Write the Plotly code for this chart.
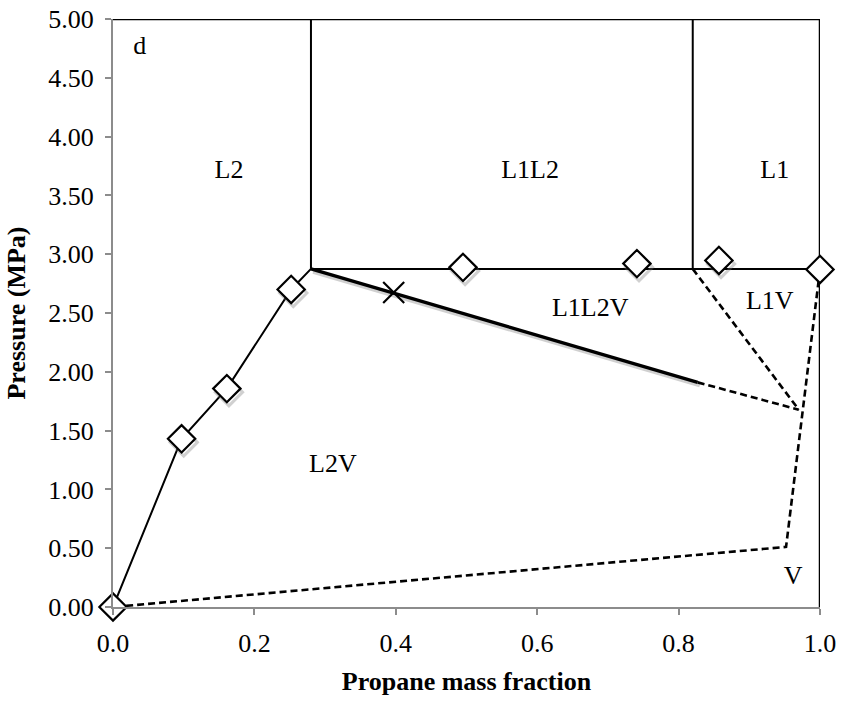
import plotly.graph_objects as go

# Experimental bubble/phase points (propane mass fraction, pressure MPa)
exp_x = [0.0, 0.097, 0.161, 0.252, 0.495, 0.741, 0.857, 1.0]
exp_p = [0.0, 1.43, 1.857, 2.70, 2.888, 2.92, 2.947, 2.87]

# Critical / special point
cross_x = [0.397]
cross_p = [2.675]

# L2 / L2V boundary
l2_x = [0.0, 0.097, 0.161, 0.252, 0.28]
l2_p = [0.0, 1.43, 1.857, 2.70, 2.875]

# Three-phase line
tp_x = [0.28, 1.0]
tp_p = [2.875, 2.875]

# Vertical boundaries of L1L2 / L1
v1_x = [0.28, 0.28]
v2_x = [0.82, 0.82]
v_p = [2.875, 5.0]

# Frame lines at top and right
top_x = [0.0, 1.0]
top_p = [5.0, 5.0]
right_x = [1.0, 1.0]
right_p = [0.0, 5.0]

# Measured L2V/L1L2V boundary (solid) and its extrapolation (dashed)
tie_x = [0.28, 0.827]
tie_p = [2.875, 1.91]
tie_ext_x = [0.827, 0.970]
tie_ext_p = [1.91, 1.678]

# Estimated dew/phase boundaries (dashed)
l1v_x = [0.82, 0.970]
l1v_p = [2.875, 1.678]
dew_x = [1.0, 0.952, 0.0]
dew_p = [2.87, 0.511, 0.0]

# Region labels
lab_text = ["d", "L2", "L1L2", "L1", "L1L2V", "L1V", "L2V", "V"]
lab_x = [0.038, 0.164, 0.59, 0.936, 0.675, 0.929, 0.311, 0.962]
lab_p = [4.76, 3.705, 3.705, 3.705, 2.53, 2.59, 1.20, 0.255]

FONT = "Liberation Serif, Times New Roman, serif"
DASH = "7px,4px"

fig = go.Figure()

def line(x, y, width=2, dash=None, color="black"):
    fig.add_trace(go.Scatter(
        x=x, y=y, mode="lines", showlegend=False, hoverinfo="skip",
        cliponaxis=False,
        line=dict(color=color, width=width, dash=dash),
    ))

line(top_x, top_p, 2.5)
line(right_x, right_p, 2.5)
line(v1_x, v_p, 2)
line(v2_x, v_p, 2)
line(tp_x, tp_p, 2)
line(l2_x, l2_p, 2)

# soft shadow under the measured boundary
line([x + 0.003 for x in tie_x], [p - 0.025 for p in tie_p], 4, color="rgba(150,150,150,0.45)")
line(tie_x, tie_p, 3.4)
line(tie_ext_x, tie_ext_p, 2.6, dash=DASH)
line(l1v_x, l1v_p, 2.6, dash=DASH)
line(dew_x, dew_p, 2.6, dash=DASH)

# marker shadows
fig.add_trace(go.Scatter(
    x=[x + 0.003 for x in exp_x], y=[p - 0.03 for p in exp_p], mode="markers",
    showlegend=False, hoverinfo="skip", cliponaxis=False,
    marker=dict(symbol="diamond-open", size=21, color="rgba(120,120,120,0.35)",
                line=dict(width=3, color="rgba(120,120,120,0.35)")),
))
fig.add_trace(go.Scatter(
    x=exp_x, y=exp_p, mode="markers", showlegend=False, cliponaxis=False,
    marker=dict(symbol="diamond", size=21, color="white",
                line=dict(width=2.2, color="black")),
))
fig.add_trace(go.Scatter(
    x=cross_x, y=cross_p, mode="markers", showlegend=False, cliponaxis=False,
    marker=dict(symbol="x-thin-open", size=21, color="black",
                line=dict(width=2.2, color="black")),
))

fig.add_trace(go.Scatter(
    x=lab_x, y=lab_p, mode="text", text=lab_text, showlegend=False,
    hoverinfo="skip", textfont=dict(family=FONT, size=26, color="black"),
))

fig.update_layout(
    width=841, height=708,
    margin=dict(l=113, r=21, t=19, b=101),
    plot_bgcolor="white", paper_bgcolor="white",
    font=dict(family=FONT, color="black"),
    xaxis=dict(
        range=[0, 1], tickvals=[0, 0.2, 0.4, 0.6, 0.8, 1.0],
        ticktext=["0.0", "0.2", "0.4", "0.6", "0.8", "1.0"],
        automargin=False,
        showgrid=False, zeroline=False, showline=True, linecolor="#8c8c8c",
        linewidth=2, ticks="outside", ticklen=6, tickwidth=2, tickcolor="#8c8c8c",
        tickfont=dict(family=FONT, size=26), ticklabelstandoff=6,
        title=dict(text="<b>Propane mass fraction</b>", font=dict(family=FONT, size=26)),
    ),
    yaxis=dict(
        range=[0, 5], tickvals=[0, 0.5, 1, 1.5, 2, 2.5, 3, 3.5, 4, 4.5, 5],
        tickformat=".2f",
        automargin=False,
        showgrid=False, zeroline=False, showline=True, linecolor="#8c8c8c",
        linewidth=2, ticks="outside", ticklen=6, tickwidth=2, tickcolor="#8c8c8c",
        tickfont=dict(family=FONT, size=26), ticklabelstandoff=6,
        title=dict(text="<b>Pressure (MPa)</b>", font=dict(family=FONT, size=26)),
    ),
)

fig.write_html("out.html")
